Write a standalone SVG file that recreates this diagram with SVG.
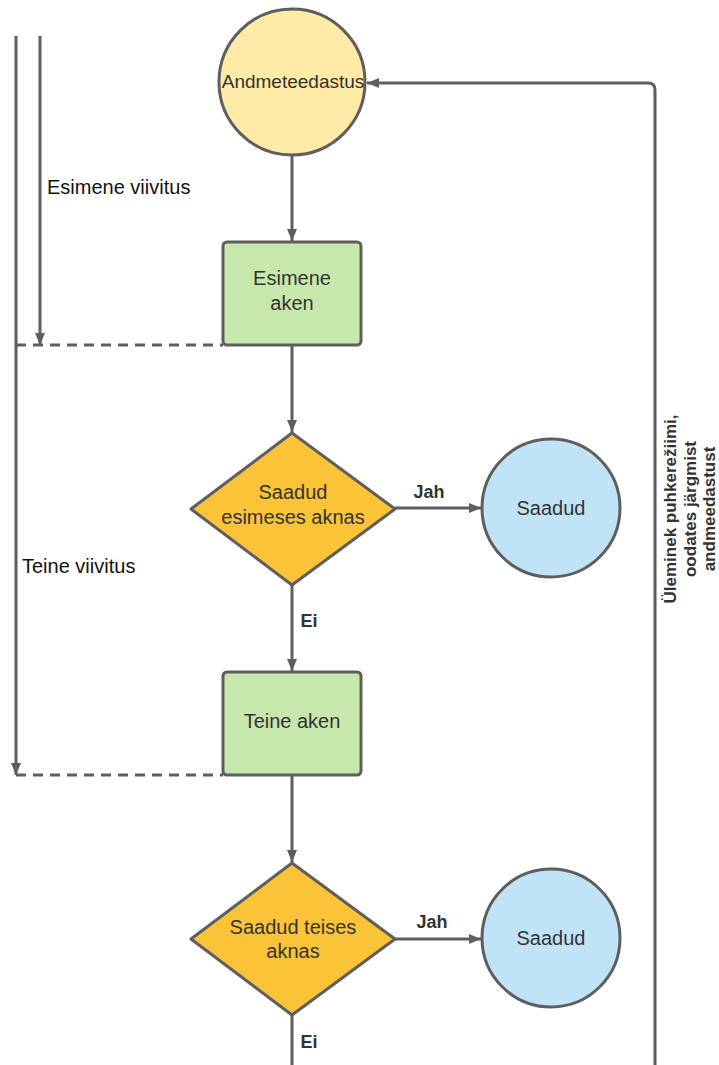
<svg xmlns="http://www.w3.org/2000/svg" width="719" height="1065" viewBox="0 0 719 1065">
<style>
.ln{stroke:#5e5e5e;stroke-width:3;fill:none}
.dash{stroke:#5e5e5e;stroke-width:3;fill:none;stroke-dasharray:10,7}
.nd{stroke:#5e5e5e;stroke-width:3}
.t{font-family:"Liberation Sans",Arial,sans-serif;font-size:20px;fill:#333;text-anchor:middle}
.tb{font-family:"Liberation Sans",Arial,sans-serif;font-size:18px;font-weight:bold;fill:#333;text-anchor:middle}
.tl{font-family:"Liberation Sans",Arial,sans-serif;font-size:20px;fill:#111}
.tr{font-family:"Liberation Sans",Arial,sans-serif;font-size:17px;font-weight:bold;fill:#333;text-anchor:middle}
</style>
<defs>
<marker id="ah" viewBox="0 0 12 10" refX="12" refY="5" markerWidth="12" markerHeight="10" markerUnits="userSpaceOnUse" orient="auto">
<path d="M0,0 L12,5 L0,10 Z" fill="#5e5e5e"/>
</marker>
</defs>
<rect width="719" height="1065" fill="#fff"/>
<g id="connectors">
<line class="ln" x1="16" y1="36" x2="16" y2="775" marker-end="url(#ah)"/>
<line class="ln" x1="40" y1="36" x2="40" y2="345" marker-end="url(#ah)"/>
<line class="dash" x1="16" y1="345" x2="223" y2="345"/>
<line class="dash" x1="16" y1="775" x2="223" y2="775"/>
<line class="ln" x1="292" y1="155" x2="292" y2="241" marker-end="url(#ah)"/>
<line class="ln" x1="292" y1="345" x2="292" y2="432" marker-end="url(#ah)"/>
<line class="ln" x1="395" y1="508" x2="481" y2="508" marker-end="url(#ah)"/>
<line class="ln" x1="292" y1="585" x2="292" y2="671" marker-end="url(#ah)"/>
<line class="ln" x1="292" y1="775" x2="292" y2="862" marker-end="url(#ah)"/>
<line class="ln" x1="395" y1="939" x2="481" y2="939" marker-end="url(#ah)"/>
<line class="ln" x1="292" y1="1015" x2="292" y2="1065"/>
<path class="ln" d="M655,1065 L655,90 Q655,83 648,83 L367,83" marker-end="url(#ah)"/>
<text class="tb" x="429" y="498">Jah</text>
<text class="tb" x="432" y="928">Jah</text>
<text class="tb" x="309" y="627">Ei</text>
<text class="tb" x="309" y="1048">Ei</text>
<text class="tl" x="47" y="194">Esimene viivitus</text>
<text class="tl" x="22" y="573">Teine viivitus</text>
<g transform="translate(693,509) rotate(-90)">
<text class="tr" x="0" y="-17">Üleminek puhkerežiimi,</text>
<text class="tr" x="0" y="3">oodates järgmist</text>
<text class="tr" x="0" y="22">andmeedastust</text>
</g>
</g>
<g id="andmeedastus">
<circle class="nd" cx="292" cy="82" r="73" fill="#ffeaa6"/>
<text class="t" x="293" y="88" style="font-size:19px">Andmeteedastus</text>
</g>
<g id="esimene-aken">
<rect class="nd" x="223" y="242" width="138" height="103" rx="4" fill="#c7e8ac"/>
<text class="t" x="292" y="285">Esimene</text>
<text class="t" x="292" y="310">aken</text>
</g>
<g id="otsus1">
<polygon class="nd" points="292,433 395,509 292,585 191,509" stroke-linejoin="round" fill="#fbc337"/>
<text class="t" x="293" y="499">Saadud</text>
<text class="t" x="293" y="524">esimeses aknas</text>
</g>
<g id="saadud1">
<circle class="nd" cx="551" cy="508" r="69" fill="#c1e3f7"/>
<text class="t" x="551" y="515">Saadud</text>
</g>
<g id="teine-aken">
<rect class="nd" x="223" y="672" width="138" height="103" rx="4" fill="#c7e8ac"/>
<text class="t" x="292" y="728">Teine aken</text>
</g>
<g id="otsus2">
<polygon class="nd" points="292,863 395,939 292,1015 191,939" stroke-linejoin="round" fill="#fbc337"/>
<text class="t" x="293" y="934">Saadud teises</text>
<text class="t" x="293" y="958">aknas</text>
</g>
<g id="saadud2">
<circle class="nd" cx="551" cy="938" r="69" fill="#c1e3f7"/>
<text class="t" x="551" y="945">Saadud</text>
</g>
</svg>
